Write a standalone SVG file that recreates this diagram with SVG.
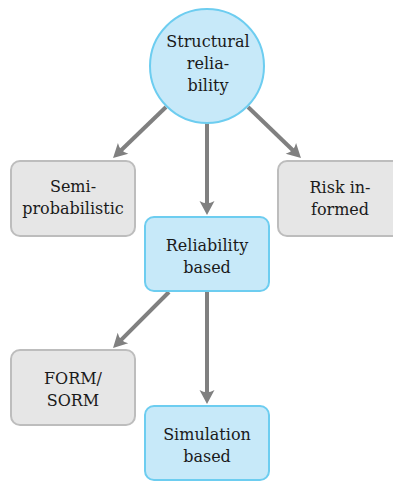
<svg xmlns="http://www.w3.org/2000/svg" width="393" height="482" viewBox="0 0 393 482">
<style>
.blue{fill:#c7e9f9;stroke:#6dcdf0;stroke-width:2}
.gray{fill:#e6e6e6;stroke:#bdbdbd;stroke-width:2}
.t{font-family:"DejaVu Serif",serif;font-size:16px;fill:#1a1a1a;text-anchor:middle}
.c{stroke:#808080;stroke-width:4;fill:none}
</style>
<defs>
<marker id="ah" markerUnits="userSpaceOnUse" orient="auto" markerWidth="30" markerHeight="30" refX="0" refY="0" viewBox="-15 -15 30 30" overflow="visible">
<path d="M8,0 L-6,-7.5 Q-1.5,0 -6,7.5 Z" fill="#808080"/>
</marker>
</defs>
<rect width="393" height="482" fill="#ffffff"/>
<g id="connectors">
<line class="c" x1="166" y1="107" x2="118.8" y2="152.5" marker-end="url(#ah)"/>
<line class="c" x1="207" y1="123" x2="207" y2="207" marker-end="url(#ah)"/>
<line class="c" x1="248" y1="107" x2="295.2" y2="152.5" marker-end="url(#ah)"/>
<line class="c" x1="169" y1="292" x2="118.7" y2="342.3" marker-end="url(#ah)"/>
<line class="c" x1="207" y1="292" x2="207" y2="396" marker-end="url(#ah)"/>
</g>
<g id="structural">
<circle class="blue" cx="207" cy="66" r="57"/>
<text class="t" x="208" y="47">Structural</text>
<text class="t" x="208" y="69">relia-</text>
<text class="t" x="208" y="91">bility</text>
</g>
<g id="semi">
<rect class="gray" x="11" y="161" width="124" height="75" rx="9"/>
<text class="t" x="73" y="192">Semi-</text>
<text class="t" x="73" y="214">probabilistic</text>
</g>
<g id="risk">
<rect class="gray" x="278" y="161" width="124" height="75" rx="9"/>
<text class="t" x="340" y="193">Risk in-</text>
<text class="t" x="340" y="215">formed</text>
</g>
<g id="reliability">
<rect class="blue" x="145" y="217" width="124" height="74" rx="9"/>
<text class="t" x="207" y="251">Reliability</text>
<text class="t" x="207" y="273">based</text>
</g>
<g id="form">
<rect class="gray" x="11" y="350" width="124" height="75" rx="9"/>
<text class="t" x="73" y="384">FORM/</text>
<text class="t" x="73" y="406">SORM</text>
</g>
<g id="simulation">
<rect class="blue" x="145" y="406" width="124" height="74" rx="9"/>
<text class="t" x="207" y="440">Simulation</text>
<text class="t" x="207" y="462">based</text>
</g>
</svg>
